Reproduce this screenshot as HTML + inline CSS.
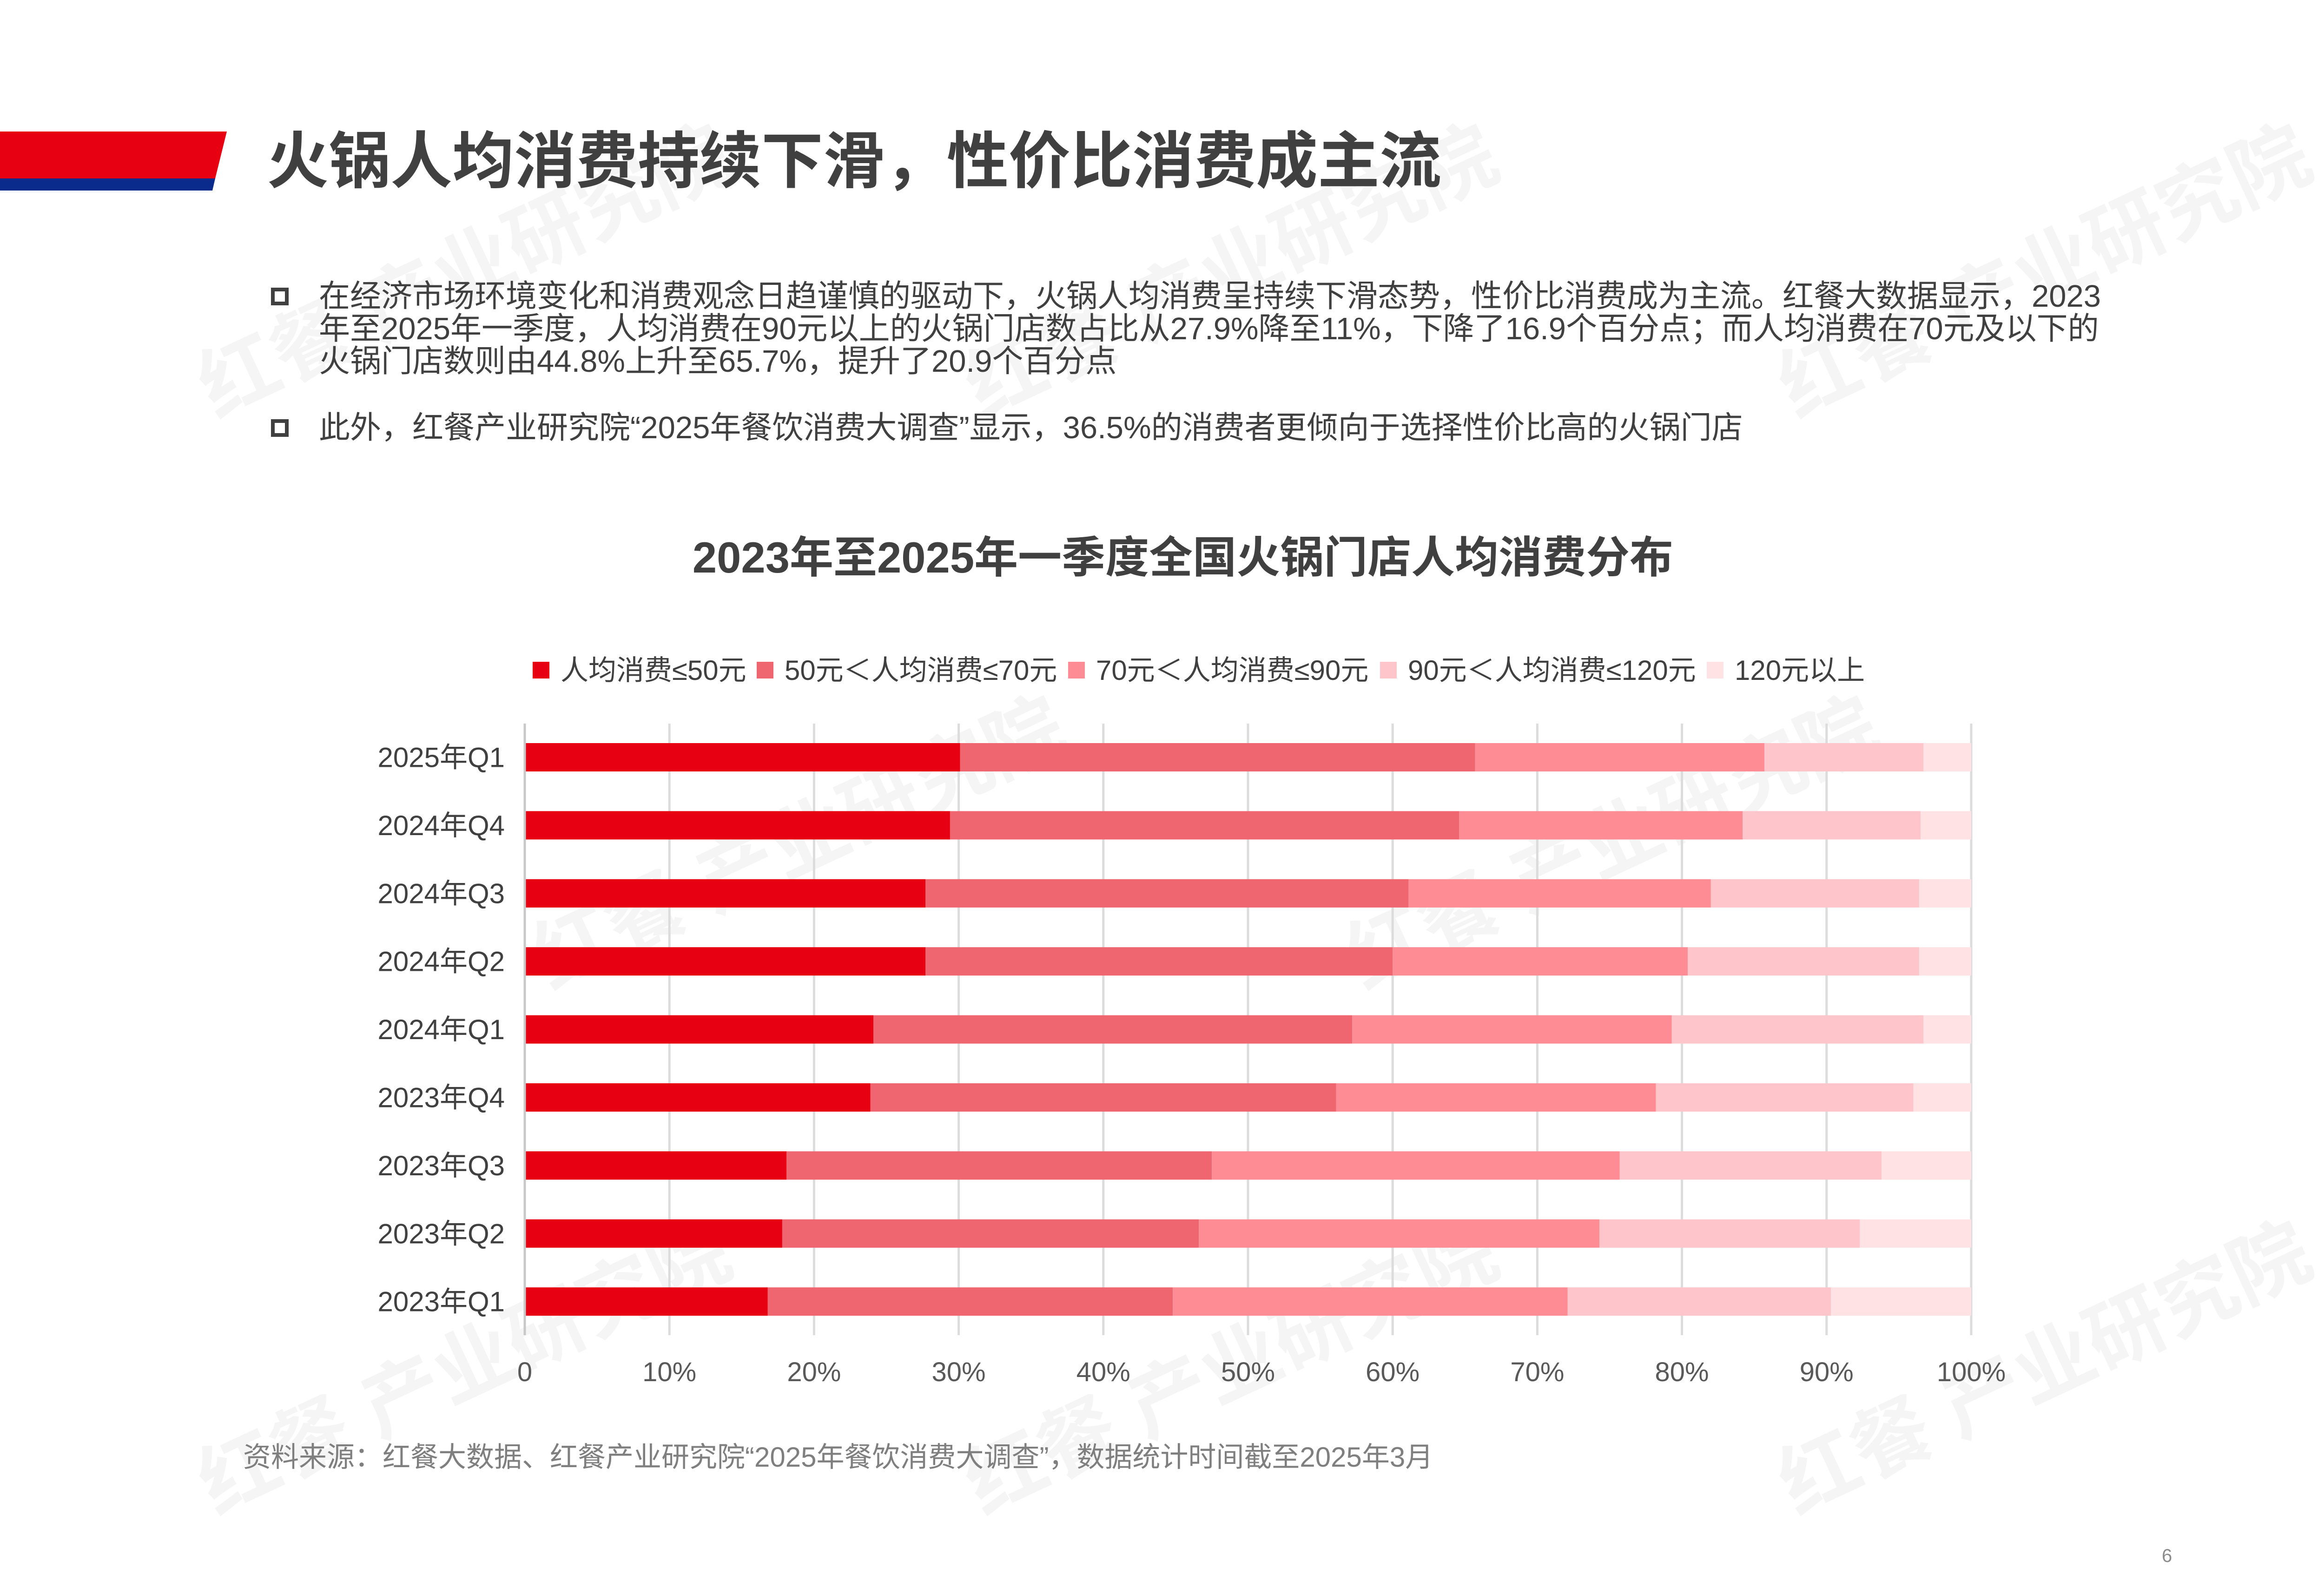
<!DOCTYPE html>
<html><head><meta charset="utf-8">
<style>
html,body{margin:0;padding:0;background:#fff;}
body{width:5102px;height:3402px;position:relative;overflow:hidden;font-family:"Liberation Sans","Noto Sans CJK SC",sans-serif;color:#404040;}
.abs{position:absolute;white-space:nowrap;}
.wm{position:absolute;color:#f5f5f5;font-weight:bold;font-size:170px;transform:rotate(-25deg);transform-origin:left top;white-space:nowrap;font-family:"Liberation Sans","Noto Sans CJK SC",sans-serif;}
</style></head>
<body>
<div class="wm" style="left:380px;top:720px;">红餐 产业研究院</div>
<div class="wm" style="left:2030px;top:720px;">红餐 产业研究院</div>
<div class="wm" style="left:3780px;top:720px;">红餐 产业研究院</div>
<div class="wm" style="left:1100px;top:1950px;">红餐 产业研究院</div>
<div class="wm" style="left:2850px;top:1950px;">红餐 产业研究院</div>
<div class="wm" style="left:380px;top:3080px;">红餐 产业研究院</div>
<div class="wm" style="left:2030px;top:3080px;">红餐 产业研究院</div>
<div class="wm" style="left:3780px;top:3080px;">红餐 产业研究院</div>

<svg class="abs" style="left:0;top:280px" width="520" height="140">
<polygon points="0,3 488,3 463,104 0,104" fill="#e60012"/>
<polygon points="0,104 463,104 457,130 0,130" fill="#0a2a8c"/>
</svg>
<div class="abs" style="left:574px;top:262px;font-size:133px;font-weight:bold;color:#404040;line-height:172px;">火锅人均消费持续下滑，性价比消费成主流</div>

<div class="abs" style="left:583px;top:619px;width:38px;height:38px;border:8px solid #404040;box-sizing:border-box;"></div>
<div class="abs" style="left:686px;top:603px;font-size:67px;line-height:70px;color:#404040;">在经济市场环境变化和消费观念日趋谨慎的驱动下，火锅人均消费呈持续下滑态势，性价比消费成为主流。红餐大数据显示，2023<br>年至2025年一季度，人均消费在90元以上的火锅门店数占比从27.9%降至11%，下降了16.9个百分点；而人均消费在70元及以下的<br>火锅门店数则由44.8%上升至65.7%，提升了20.9个百分点</div>
<div class="abs" style="left:583px;top:902px;width:38px;height:38px;border:8px solid #404040;box-sizing:border-box;"></div>
<div class="abs" style="left:686px;top:886px;font-size:67px;line-height:70px;color:#404040;">此外，红餐产业研究院“2025年餐饮消费大调查”显示，36.5%的消费者更倾向于选择性价比高的火锅门店</div>

<div class="abs" style="left:0;width:5090px;text-align:center;top:1140px;font-size:94px;font-weight:bold;line-height:120px;color:#404040;">2023年至2025年一季度全国火锅门店人均消费分布</div>

<svg id="chart" class="abs" style="left:0;top:0" width="5102" height="3402"></svg>

<div class="abs" style="left:523px;top:3100px;font-size:60px;line-height:72px;color:#7f7f7f;">资料来源：红餐大数据、红餐产业研究院“2025年餐饮消费大调查”，数据统计时间截至2025年3月</div>
<div class="abs" style="left:4651px;top:3326px;font-size:40px;color:#8c8c8c;">6</div>

<script>
const categories = ["2025年Q1","2024年Q4","2024年Q3","2024年Q2","2024年Q1","2023年Q4","2023年Q3","2023年Q2","2023年Q1"];
const seriesNames = ["人均消费≤50元","50元＜人均消费≤70元","70元＜人均消费≤90元","90元＜人均消费≤120元","120元以上"];
const s1 = [30.1,29.4,27.7,27.7,24.1,23.9,18.1,17.8,16.8];
const s2 = [35.6,35.2,33.4,32.3,33.1,32.2,29.4,28.8,28.0];
const s3 = [20.0,19.6,20.9,20.4,22.1,22.1,28.2,27.7,27.3];
const s4 = [11.0,12.3,14.4,16.0,17.4,17.8,18.1,18.0,18.2];
const s5 = [3.3,3.5,3.6,3.6,3.3,4.0,6.2,7.7,9.7];
const tickValues = [0,10,20,30,40,50,60,70,80,90,100];
const tickLabels = ["0","10%","20%","30%","40%","50%","60%","70%","80%","90%","100%"];

const colors = ["#e60012","#ef6670","#fe8c95","#fec5ca","#fee2e4"];
const NS="http://www.w3.org/2000/svg";
const svg=document.getElementById('chart');
const X0=1129, X1=4241, Y0=1599, STEP=146.4, BH=61;
const xs=v=>X0+(X1-X0)*v/100;
const yb=i=>Y0+i*STEP;
function mk(t,a){const e=document.createElementNS(NS,t);for(const k in a)e.setAttribute(k,a[k]);svg.appendChild(e);return e;}

tickValues.forEach((v,i)=>{
  const l=mk('line',{x1:xs(v),x2:xs(v),y1:1557,y2:2873,stroke:'#dcdcdc','stroke-width':5});
  
  
  const t=mk('text',{x:xs(v),y:2972,'text-anchor':'middle','font-size':58,fill:'#595959','font-family':'Liberation Sans, Noto Sans CJK SC, sans-serif'});
  t.textContent=tickLabels[i];
  
  
});

const series=[s1,s2,s3,s4,s5];
categories.forEach((c,i)=>{
  let acc=0;
  series.forEach((s,j)=>{
    const r=mk('rect',{x:xs(acc),y:yb(i),width:xs(acc+s[i])-xs(acc),height:BH,fill:colors[j]});
    
    
    acc+=s[i];
  });
  const t=mk('text',{x:1086,y:yb(i)+BH/2+21,'text-anchor':'end','font-size':60,fill:'#404040','font-family':'Liberation Sans, Noto Sans CJK SC, sans-serif'});
  t.textContent=c;
  
  
});
const ax=mk('line',{x1:X0,x2:X0,y1:1557,y2:2873,stroke:'#c8c8c8','stroke-width':5});



// legend
const legendX=[1146,1628,2298,2969,3672];
seriesNames.forEach((n,j)=>{
  const r=mk('rect',{x:legendX[j],y:1424,width:36,height:36,fill:colors[j]});
  
  
  const t=mk('text',{x:legendX[j]+60,y:1463,'font-size':60,fill:'#404040','font-family':'Liberation Sans, Noto Sans CJK SC, sans-serif'});
  t.textContent=n;
  
  
});
</script>
</body></html>
